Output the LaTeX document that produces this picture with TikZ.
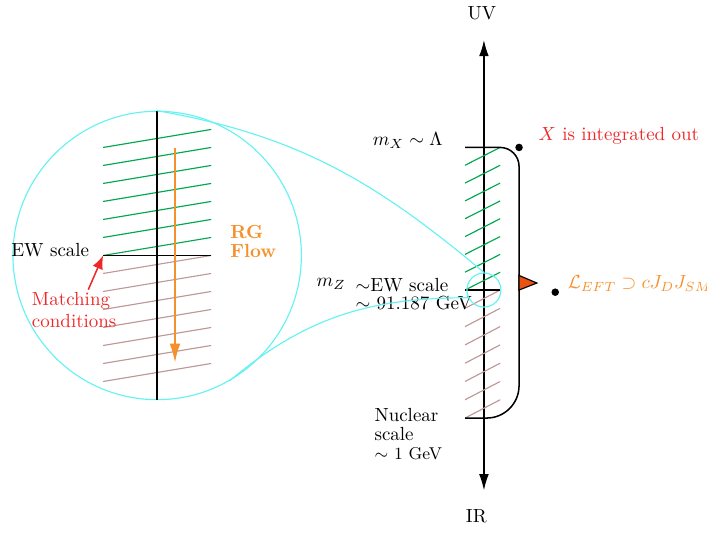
\documentclass[tikz,border=0pt]{standalone}
\usetikzlibrary{arrows.meta}

\definecolor{hatchgreen}{RGB}{0,166,80}
\definecolor{hatchbrown}{RGB}{190,152,152}
\definecolor{zoomcyan}{RGB}{100,242,242}
\definecolor{rgorange}{RGB}{245,145,45}
\definecolor{xred}{RGB}{238,40,40}
\definecolor{flagred}{RGB}{232,82,20}

\begin{document}
\begin{tikzpicture}[
    greenhatch/.style={draw=hatchgreen, semithick},
    brownhatch/.style={draw=hatchbrown, semithick},
    zoomline/.style={draw=zoomcyan, semithick},
  ]
  \useasboundingbox (0,0) rectangle (13.09,9.93);

  % Energy axis
  \node (UV) at (8.92,9.68) {UV};
  \node (IR) at (8.82,0.38) {IR};
  \coordinate (top) at (8.96,9.19);
  \coordinate (bottom) at (8.96,0.85);
  \draw[<->,>={Latex[length=3mm,width=1.8mm]},thick] (bottom) -- (top);

  % Hatching between the scales
  \foreach \k in {0,...,7}
    \draw[greenhatch] (8.61,{4.56+\k*0.33}) -- (9.26,{4.56+(\k+1)*0.33});
  \foreach \k in {0,...,6}
    \draw[brownhatch] (8.61,{2.19+\k*0.3386}) -- (9.26,{2.19+(\k+1)*0.3386});

  % Scale lines and bracket
  \draw[thick] (8.61,7.2) [rounded corners=0.35cm] -- (9.61,7.2) -- (9.61,4.0)
    [rounded corners=0.6cm] -- (9.61,2.19) -- (8.61,2.19);
  \draw[thick] (8.61,4.56) -- (9.26,4.56);
  \filldraw[fill=flagred, draw=black, semithick] (9.61,4.56) -- (9.61,4.83) -- (9.94,4.69) -- cycle;

  % Dots and labels
  \node[circle, fill, inner sep=1.4pt] (xdot) at (9.61,7.2) {};
  \node[circle, fill, inner sep=1.4pt] (ldot) at (10.28,4.52) {};
  \node[anchor=west, text=xred] (xout) at (9.85,7.41) {$X$ is integrated out};
  \node[anchor=west, text=rgorange, inner sep=1pt] (leff) at (10.47,4.68) {$\mathcal{L}_{EFT} \supset cJ_DJ_{SM}$};
  \node (mX) at (7.55,7.33) {$m_X \sim \Lambda$};
  \node (mZ) at (6.13,4.67) {$m_Z$};
  \node[anchor=west, align=left] (ewZ) at (6.46,4.48) {$\sim$EW scale\\[-2.5pt]$\sim$ 91.187 GeV};
  \node[anchor=north west, align=left] (nuc) at (6.81,2.5) {Nuclear\\[-2pt]scale\\[-2pt]{\small $\sim$ 1 GeV}};

  % Zoomed view
  \node[circle, draw=zoomcyan, semithick, minimum size=5.34cm, inner sep=0pt] (bigc) at (2.91,5.2) {};
  \node[circle, draw=zoomcyan, semithick, minimum size=0.63cm, inner sep=0pt] (smallc) at (8.96,4.56) {};
  \foreach \k in {0,...,6} {
    \draw[greenhatch] (1.91,{5.2+\k/3}) -- (3.91,{5.2+(\k+1)/3});
    \draw[brownhatch] (1.91,{5.2-(\k+1)/3}) -- (3.91,{5.2-\k/3});
  }
  \draw[thick] (bigc.north) -- (bigc.south);
  \draw[thick] (1.91,5.2) -- (3.91,5.2);

  \node (ewl) at (0.93,5.3) {EW scale};
  \node[anchor=west, align=left, text=rgorange, font=\bfseries] (rg) at (4.14,5.46) {RG\\[-2.5pt]Flow};
  \node[anchor=west, align=left, text=xred, inner sep=1pt] (match) at (0.55,4.19) {Matching\\conditions};

  \coordinate (ewpt) at (1.91,5.2);
  \coordinate (rgtop) at (3.24,7.19);
  \coordinate (rgbot) at (3.24,3.22);
  \draw[->,>={Latex[length=3.5mm,width=2mm]},rgorange,thick] (rgtop) -- (rgbot);
  \draw[->,>={Latex[length=2.5mm,width=2mm]},xred,thick] ([xshift=0.26cm]match.north) -- (ewpt);

  % Connectors of the zoom
  \draw[zoomline] (bigc.north) to[out=-10,in=140] (smallc.north);
  \draw[zoomline] (bigc.-60) to[out=40,in=180] (smallc.206);
\end{tikzpicture}
\end{document}
